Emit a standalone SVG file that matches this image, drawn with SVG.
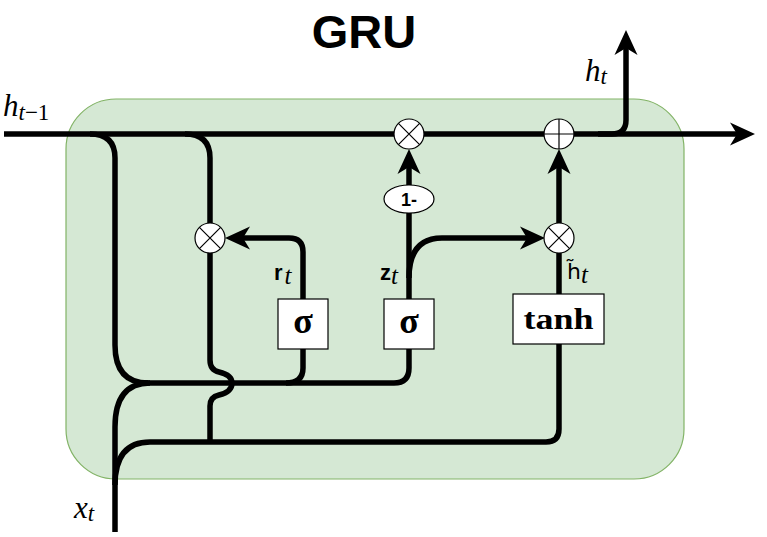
<svg xmlns="http://www.w3.org/2000/svg" width="767" height="537" viewBox="0 0 767 537">
<style>
.ln{fill:none;stroke:#000;stroke-width:5.5;stroke-linecap:butt;stroke-linejoin:round}
.op{fill:#fff;stroke:#000;stroke-width:1.2}
.opx{stroke:#000;stroke-width:1.2;fill:none}
.box{fill:#fff;stroke:#000;stroke-width:1.2}
.math{font-family:"Liberation Serif","DejaVu Serif",serif;font-style:italic}
.gate{font-family:"Liberation Serif","DejaVu Serif",serif;font-weight:bold;text-anchor:middle}
.sans{font-family:"Liberation Sans",Arial,sans-serif}
</style>
<defs>
<marker id="arr" markerUnits="userSpaceOnUse" markerWidth="26" markerHeight="24" viewBox="0 0 26 24" refX="10" refY="12" orient="auto">
<path d="M25,12 L0,0.5 L7,12 L0,23.5 Z" fill="#000"/>
</marker>
</defs>
<rect id="cell" x="66" y="99" width="618" height="380" rx="50" ry="50" fill="#d5e8d4" stroke="#82b366" stroke-width="1.2"/>
<text id="title" x="364" y="48" class="sans" font-size="47" font-weight="bold" text-anchor="middle">GRU</text>
<g id="connectors">
<path class="ln" d="M4,134 L740,134" marker-end="url(#arr)"/>
<path class="ln" d="M598,134 L612,134 Q626,134 626,120 L626,45" marker-end="url(#arr)"/>
<path class="ln" d="M90,134 Q115,134 115,158 L115,345 Q115,383 148,383"/>
<path class="ln" d="M185,134 Q210,134 210,158 L210,360 Q210,370 219,372 Q232,375 232,383 Q232,392 219,395 Q210,397 210,406 L210,442"/>
<path class="ln" d="M115,532 L115,427 Q115,383 150,383"/>
<path class="ln" d="M115,485 Q115,442 150,442 L546,442 Q559,442 559,429 L559,344"/>
<path class="ln" d="M140,383 L394,383 Q409,383 409,368 L409,349"/>
<path class="ln" d="M303,349 L303,368 Q303,383 286,383"/>
<path class="ln" d="M303,299 L303,252 Q303,238 289,238 L240,238" marker-end="url(#arr)"/>
<path class="ln" d="M409,299 L409,213"/>
<path class="ln" d="M409,185 L409,164" marker-end="url(#arr)"/>
<path class="ln" d="M409,278 Q409,238 442,238 L530,238" marker-end="url(#arr)"/>
<path class="ln" d="M559,294 L559,253"/>
<path class="ln" d="M559,223 L559,164" marker-end="url(#arr)"/>
</g>
<g id="mul_top"><circle class="op" cx="409" cy="134" r="15"/><path class="opx" d="M398.4,123.4 L419.6,144.6 M419.6,123.4 L398.4,144.6"/></g>
<g id="add_top"><circle class="op" cx="559" cy="134" r="15"/><path class="opx" d="M544,134 L574,134 M559,119 L559,149"/></g>
<g id="mul_reset"><circle class="op" cx="210" cy="238" r="15"/><path class="opx" d="M199.4,227.4 L220.6,248.6 M220.6,227.4 L199.4,248.6"/></g>
<g id="mul_cand"><circle class="op" cx="559" cy="238" r="15"/><path class="opx" d="M548.4,227.4 L569.6,248.6 M569.6,227.4 L548.4,248.6"/></g>
<g id="one_minus"><ellipse class="op" cx="409" cy="199" rx="25" ry="14"/><text x="409" y="205.5" class="sans" font-size="18" font-weight="bold" text-anchor="middle">1-</text></g>
<g id="sigma_r"><rect class="box" x="278" y="299" width="50" height="50"/><text x="303" y="333" class="gate" font-size="36">σ</text></g>
<g id="sigma_z"><rect class="box" x="384" y="299" width="50" height="50"/><text x="409" y="333" class="gate" font-size="36">σ</text></g>
<g id="tanh"><rect class="box" x="513" y="294" width="91" height="50"/><text x="558.5" y="329" class="gate" font-size="30" textLength="70" lengthAdjust="spacingAndGlyphs">tanh</text></g>
<g id="labels">
<text x="3" y="116" class="math" font-size="31">h<tspan font-size="23" dy="4">t</tspan><tspan font-style="normal" font-size="23">−1</tspan></text>
<text x="585" y="81" class="math" font-size="31">h<tspan font-size="23" dy="3">t</tspan></text>
<text x="74" y="518" class="math" font-size="31">x<tspan font-size="23" dy="3">t</tspan></text>
<text x="274" y="280" class="sans" font-size="22" font-weight="bold">r<tspan class="math" font-weight="normal" font-size="25" dx="2" dy="4">t</tspan></text>
<text x="380" y="280" class="sans" font-size="22" font-weight="bold">z<tspan class="math" font-weight="normal" font-size="25" dy="4">t</tspan></text>
<text x="567" y="279" font-family="DejaVu Sans,sans-serif" font-size="22">h̃<tspan class="math" font-size="25" dy="4">t</tspan></text>
</g>
</svg>
